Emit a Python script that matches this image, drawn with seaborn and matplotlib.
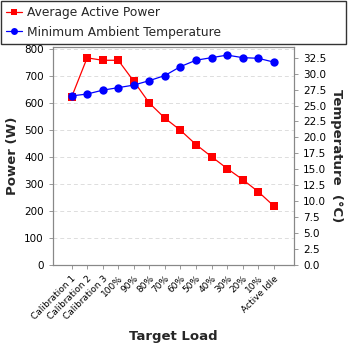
import matplotlib
matplotlib.use("Agg")
import matplotlib.pyplot as plt
import seaborn as sns
import pandas as pd
from matplotlib.lines import Line2D

categories = ["Calibration 1", "Calibration 2", "Calibration 3", "100%", "90%", "80%",
              "70%", "60%", "50%", "40%", "30%", "20%", "10%", "Active Idle"]
power = [623, 769, 760, 760, 682, 601, 545, 500, 447, 402, 358, 317, 272, 219]
temperature = [26.5, 26.8, 27.4, 27.8, 28.2, 28.9, 29.7, 31.1, 32.1, 32.5, 32.9, 32.5, 32.4, 31.8]

sns.set_style("white")
plt.rcParams['font.family'] = ['DejaVu Sans']

df = pd.DataFrame({"x": range(len(categories)), "power": power, "temp": temperature})

fig = plt.figure(figsize=(3.48, 3.48), dpi=100)
ax = fig.add_axes([0.152, 0.2385, 0.693, 0.627])
ax2 = ax.twinx()

sns.lineplot(data=df, x="x", y="power", ax=ax, color="#ff0000", marker="s", markersize=6,
             markeredgewidth=0, linewidth=0.9, zorder=3)
sns.lineplot(data=df, x="x", y="temp", ax=ax2, color="#0000ff", marker="o", markersize=6,
             markeredgewidth=0, linewidth=0.9, alpha=1, zorder=3)

ax.set_ylim(0, 810)
ax.set_yticks(range(0, 801, 100))
ax2.set_ylim(0, 34.2)
ax2.set_yticks([i * 2.5 for i in range(14)])
ax2.set_yticklabels([f"{i*2.5:.1f}" for i in range(14)])
ax.set_xlim(-1.2, 14.3)
ax.set_xticks(range(len(categories)))
ax.set_xticklabels(categories, rotation=45, ha="right", rotation_mode="anchor", fontsize=6.5)

ax.yaxis.grid(True, color="#dddddd", linestyle=(0, (4, 3)), linewidth=0.7)
ax.set_axisbelow(True)

for a in (ax, ax2):
    for s in a.spines.values():
        s.set_color("#888888")
        s.set_linewidth(0.8)
    a.tick_params(colors="#888888", labelcolor="black", labelsize=7.5, length=3, width=0.6)
ax.tick_params(axis="x", labelsize=6.5)
ax.tick_params(axis="y", direction="out", left=True)
ax.tick_params(axis="x", bottom=True, direction="out")
ax2.tick_params(axis="y", right=True, direction="out")

ax.set_ylabel("Power (W)", fontsize=9.5, fontweight="bold", labelpad=4)
ax2.set_ylabel("Temperature  (°C)", fontsize=9.5, fontweight="bold", rotation=270, labelpad=12)
ax.set_xlabel("Target Load", fontsize=9.5, fontweight="bold", labelpad=6)

handles = [Line2D([], [], color="#ff0000", marker="s", markersize=5, markeredgewidth=0, linewidth=0.9),
           Line2D([], [], color="#0000ff", marker="o", markersize=5, markeredgewidth=0, linewidth=0.9)]
leg = fig.legend(handles, ["Average Active Power", "Minimum Ambient Temperature"],
                 loc="upper left", bbox_to_anchor=(0.003, 0.879, 0.992, 0.118), mode="expand",
                 frameon=True, fancybox=False, fontsize=8.8, handlelength=1.3, handletextpad=0.4,
                 borderpad=0.4, labelspacing=0.55, borderaxespad=0)
leg.get_frame().set_edgecolor("black")
leg.get_frame().set_linewidth(1.0)

fig.savefig("out.png", dpi=100)
